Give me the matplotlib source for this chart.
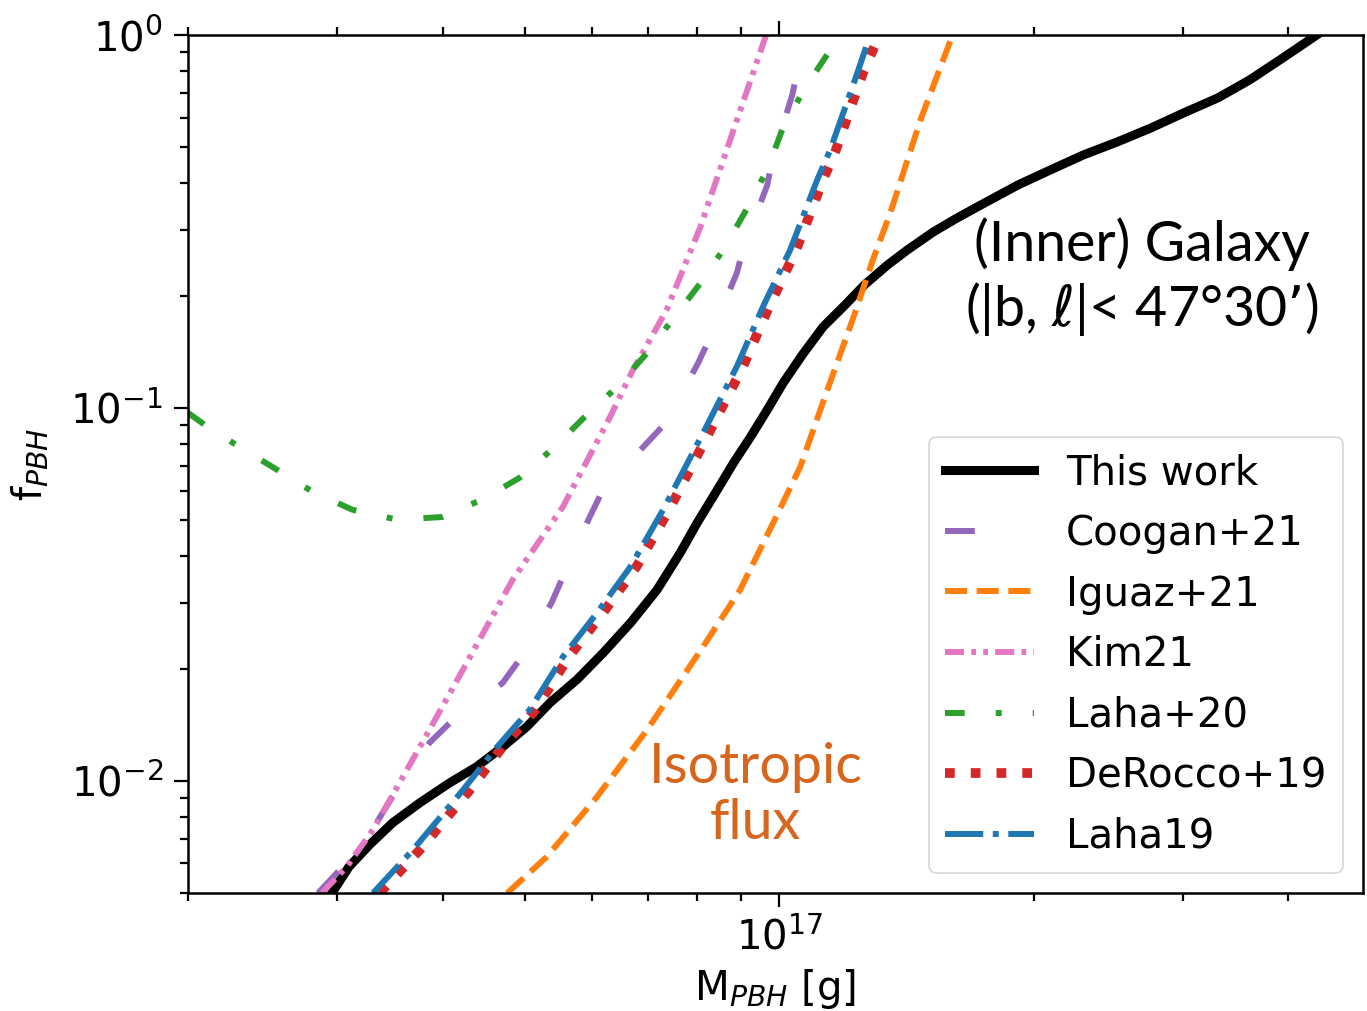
import numpy as np
import matplotlib
matplotlib.use("Agg")
import matplotlib.pyplot as plt
from matplotlib.ticker import NullFormatter

# ---- data (M in g, f_PBH) ----
this_m = [2.96e16, 3.10e16, 3.28e16, 3.49e16, 3.76e16, 4.08e16, 4.39e16, 4.71e16, 5.03e16,
          5.36e16, 5.77e16, 6.19e16, 6.67e16, 7.17e16, 7.64e16, 8.00e16, 8.45e16, 8.83e16,
          9.25e16, 9.68e16, 1.011e17, 1.067e17, 1.127e17, 1.197e17, 1.261e17, 1.343e17,
          1.417e17, 1.52e17, 1.615e17, 1.715e17, 1.915e17, 2.094e17, 2.29e17, 2.512e17,
          2.75e17, 3.007e17, 3.30e17, 3.60e17, 3.94e17, 4.32e17]
this_f = [5.0e-3, 5.88e-3, 6.74e-3, 7.71e-3, 8.73e-3, 9.88e-3, 1.091e-2, 1.233e-2, 1.396e-2,
          1.62e-2, 1.87e-2, 2.20e-2, 2.65e-2, 3.25e-2, 4.09e-2, 4.92e-2, 6.03e-2, 7.12e-2,
          8.36e-2, 9.88e-2, 0.1167, 0.1396, 0.165, 0.189, 0.2137, 0.2417,
          0.265, 0.296, 0.321, 0.346, 0.396, 0.435, 0.477, 0.517,
          0.563, 0.618, 0.678, 0.758, 0.868, 1.0]

coogan_m = [2.85e16, 3.00e16, 3.34e16, 3.49e16, 3.86e16, 4.08e16, 4.71e16, 4.93e16, 5.38e16,
            5.55e16, 5.97e16, 6.19e16, 6.98e16, 7.36e16, 8.02e16, 8.28e16, 8.91e16, 9.06e16,
            9.68e16, 9.81e16, 1.036e17, 1.053e17]
coogan_f = [5.0e-3, 5.66e-3, 7.71e-3, 9.06e-3, 1.264e-2, 1.43e-2, 1.83e-2, 2.11e-2, 3.00e-2,
            3.52e-2, 5.10e-2, 6.03e-2, 8.06e-2, 9.17e-2, 0.132, 0.154, 0.230, 0.265,
            0.396, 0.462, 0.690, 0.821]

iguaz_m = [4.77e16, 5.31e16, 6.09e16, 6.98e16, 8.13e16, 8.99e16, 9.84e16, 1.059e17, 1.14e17,
           1.224e17, 1.29e17, 1.353e17, 1.469e17, 1.603e17]
iguaz_f = [5.0e-3, 6.25e-3, 9.06e-3, 1.37e-2, 2.29e-2, 3.25e-2, 4.92e-2, 6.95e-2, 0.1117,
           0.175, 0.249, 0.333, 0.592, 1.0]

kim_m = [2.88e16, 3.08e16, 3.31e16, 3.76e16, 4.23e16, 4.84e16, 5.55e16, 6.31e16, 6.71e16,
         7.36e16, 8.07e16, 8.83e16, 9.65e16]
kim_f = [5.0e-3, 5.88e-3, 7.39e-3, 1.233e-2, 1.99e-2, 3.46e-2, 5.43e-2, 9.46e-2, 0.126,
         0.183, 0.306, 0.556, 1.0]

laha20_m = [2.0e16, 2.11e16, 2.29e16, 2.55e16, 2.81e16, 3.13e16, 3.54e16, 4.00e16, 4.47e16,
            4.93e16, 5.41e16, 5.89e16, 6.43e16, 6.98e16, 7.50e16, 8.07e16, 8.63e16, 9.17e16,
            9.70e16, 1.011e17, 1.073e17, 1.149e17, 1.18e17]
laha20_f = [9.7e-2, 8.89e-2, 7.91e-2, 6.82e-2, 5.95e-2, 5.33e-2, 5.01e-2, 5.10e-2, 5.70e-2,
            6.49e-2, 7.81e-2, 9.46e-2, 0.1138, 0.1404, 0.174, 0.216, 0.270, 0.344,
            0.440, 0.567, 0.721, 0.912, 1.0]

derocco_m = [3.37e16, 3.76e16, 4.31e16, 4.71e16, 5.15e16, 5.64e16, 6.19e16, 6.78e16, 7.41e16,
             8.26e16, 9.06e16, 9.73e16, 1.047e17, 1.127e17, 1.167e17, 1.256e17, 1.295e17]
derocco_f = [5.0e-3, 6.53e-3, 9.46e-3, 1.233e-2, 1.55e-2, 2.15e-2, 2.82e-2, 3.75e-2, 5.33e-2,
             8.57e-2, 0.129, 0.187, 0.265, 0.409, 0.492, 0.791, 0.929]

laha19_m = [3.31e16, 3.69e16, 4.23e16, 4.64e16, 5.07e16, 5.55e16, 6.09e16, 6.67e16, 7.29e16,
            8.13e16, 8.91e16, 9.57e16, 1.03e17, 1.109e17, 1.149e17, 1.237e17, 1.267e17]
laha19_f = [5.0e-3, 6.53e-3, 9.46e-3, 1.233e-2, 1.55e-2, 2.15e-2, 2.82e-2, 3.75e-2, 5.33e-2,
            8.57e-2, 0.129, 0.187, 0.265, 0.409, 0.492, 0.791, 0.929]

FS = 29
plt.rcParams.update({"font.size": FS, "axes.linewidth": 1.8})

fig = plt.figure(figsize=(13.67, 10.11), dpi=100)
ax = fig.add_axes([188/1367, 1-893/1011, (1363-188)/1367, (893-35)/1011])

LW = 4.3
ax.plot(this_m, this_f, color="black", lw=6.5, label="This work")
ax.plot(coogan_m, coogan_f, color="#9467bd", lw=LW, ls=(0, (5, 10.5)), label="Coogan+21")
ax.plot(iguaz_m, iguaz_f, color="#ff7f0e", lw=LW, ls="--", label="Iguaz+21")
ax.plot(kim_m, kim_f, color="#e377c2", lw=LW, ls=(0, (3.2, 1.2, 0.8, 1.2, 0.8, 1.2)), label="Kim21")
ax.plot(laha20_m, laha20_f, color="#2ca02c", lw=LW, ls=(0, (3.3, 5.2, 1.0, 5.2)), label="Laha+20")
ax.plot(derocco_m, derocco_f, color="#d62728", lw=7.0, ls=":", label="DeRocco+19")
ax.plot(laha19_m, laha19_f, color="#1f77b4", lw=LW, ls="-.", label="Laha19")

ax.set_xscale("log"); ax.set_yscale("log")
ax.set_xlim(2e16, 4.9e17); ax.set_ylim(5e-3, 1.0)
ax.xaxis.set_minor_formatter(NullFormatter())
ax.yaxis.set_minor_formatter(NullFormatter())
ax.tick_params(which="both", direction="out", top=True, width=1.6, labelsize=FS, pad=8)
ax.tick_params(which="major", length=10)
ax.tick_params(which="minor", length=6)

ax.set_xlabel("M$_{PBH}$ [g]", fontsize=FS, labelpad=6)
ax.set_ylabel("f$_{PBH}$", fontsize=FS, labelpad=14)

leg = ax.legend(loc="lower right", fontsize=FS, handlelength=2.2, labelspacing=0.51,
                borderaxespad=0.5)
leg.get_frame().set_linewidth(1.2)

ax.text(0.812, 0.717, "(Inner) Galaxy\n(|b, $\\ell$|< 47°30’)", transform=ax.transAxes,
        ha="center", va="center", fontsize=40, family=["Lato", "DejaVu Sans"],
        linespacing=1.2, color="black")
ax.text(0.483, 0.114, "Isotropic\nflux", transform=ax.transAxes, ha="center", va="center",
        fontsize=40, family=["Lato", "DejaVu Sans"], linespacing=1.12, color="#d8651c")

fig.savefig("out.png", dpi=100)
